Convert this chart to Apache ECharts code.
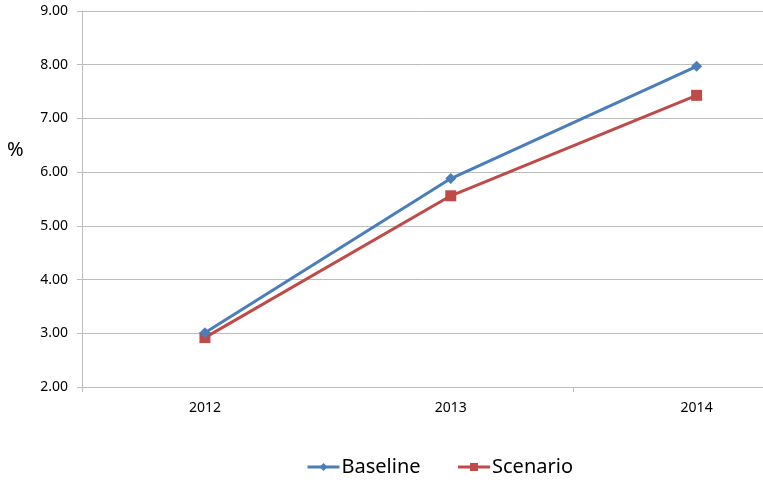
<!DOCTYPE html>
<html>
<head>
<meta charset="utf-8">
<script src="https://cdn.jsdelivr.net/npm/echarts@6/dist/echarts.min.js"></script>
<style>
  html, body { margin: 0; padding: 0; background: #fff; }
  #chart { width: 763px; height: 483px; }
</style>
</head>
<body>
<div id="chart"></div>
<script>
// Years along the horizontal axis
const years = ['2012', '2013', '2014'];
// Rates in percent
const baseline = [3.01, 5.88, 7.97];
const scenario = [2.92, 5.56, 7.43];
// Value axis range
const yMin = 2, yMax = 9, yStep = 1;

const FONT = '"Noto Sans", "Liberation Sans", sans-serif';
const BLUE = '#4A7EBB';
const RED = '#BE4B48';
const GRID = '#BDBDBD';

// Years sit at integer positions; the plot starts half a slot before
// the first year and is cut off past the last one on the right.
const xMin = -0.5, xMax = 2.27;
const yearPos = years.map((y, i) => i);
const slotEdges = [-0.5, 1.5];
const pairs = vals => vals.map((v, i) => [yearPos[i], v]);

const chart = echarts.init(document.getElementById('chart'));
chart.setOption({
  animation: false,
  backgroundColor: '#fff',
  textStyle: { fontFamily: FONT },
  graphic: [{
    type: 'text',
    left: 7, top: 140,
    style: { text: '%', font: '20px ' + FONT, fill: '#000' }
  }],
  legend: {
    top: 452,
    left: 301,
    itemWidth: 32,
    itemHeight: 10,
    itemGap: 36,
    lineStyle: { width: 3 },
    textStyle: { fontSize: 20, color: '#000', fontFamily: FONT, padding: [0, 0, 0, -3] },
    data: ['Baseline', 'Scenario']
  },
  grid: { left: 82, top: 11, right: 0, bottom: 96 },
  xAxis: {
    type: 'value',
    min: xMin, max: xMax,
    splitLine: { show: false },
    axisLine: { onZero: false, lineStyle: { color: GRID, width: 1 } },
    axisTick: { show: true, length: 5, customValues: slotEdges, lineStyle: { color: GRID } },
    axisLabel: {
      color: '#000', fontSize: 14, margin: 14, fontFamily: FONT,
      customValues: yearPos,
      formatter: function (v) { return years[Math.round(v)]; }
    }
  },
  yAxis: {
    type: 'value',
    min: yMin, max: yMax, interval: yStep,
    axisLine: { show: true, onZero: false, lineStyle: { color: GRID } },
    axisTick: { show: true, length: 5, lineStyle: { color: GRID } },
    splitLine: { lineStyle: { color: GRID, width: 1 } },
    axisLabel: {
      color: '#000', fontSize: 14, margin: 14, fontFamily: FONT,
      formatter: function (v) { return v.toFixed(2); }
    }
  },
  series: [
    {
      name: 'Baseline',
      type: 'line',
      data: pairs(baseline),
      color: BLUE,
      symbol: 'diamond',
      symbolSize: 11,
      lineStyle: { width: 3, color: BLUE },
      itemStyle: { color: BLUE },
      z: 3
    },
    {
      name: 'Scenario',
      type: 'line',
      data: pairs(scenario),
      color: RED,
      symbol: 'rect',
      symbolSize: 11,
      lineStyle: { width: 3, color: RED },
      itemStyle: { color: RED },
      z: 2
    }
  ]
});
</script>
</body>
</html>
